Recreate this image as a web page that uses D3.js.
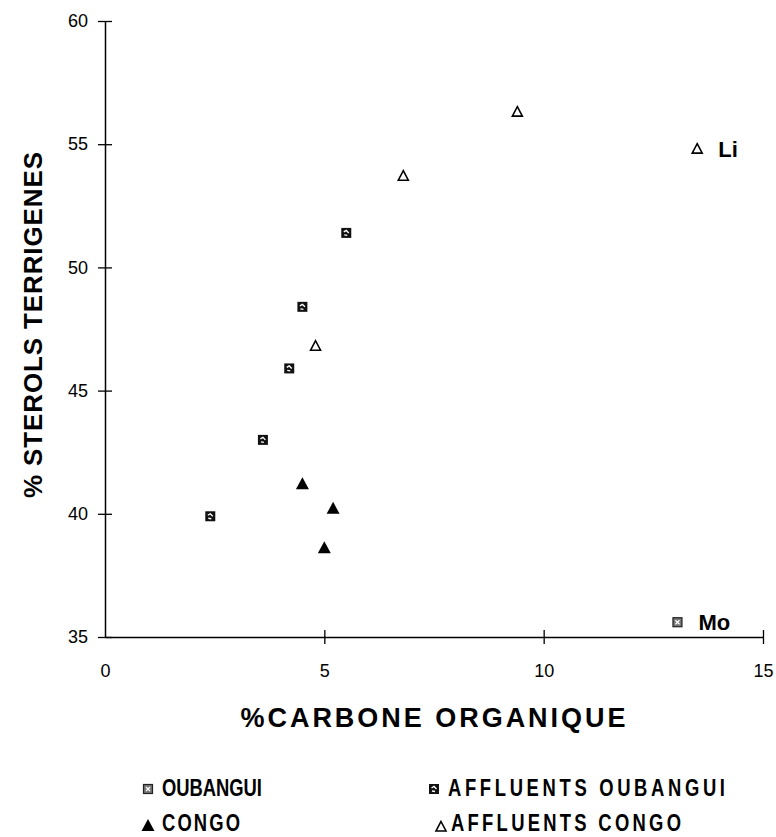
<!DOCTYPE html>
<html><head><meta charset="utf-8">
<script src="https://cdn.jsdelivr.net/npm/d3@7"></script>
<style>body{margin:0;background:#fff}svg{display:block}</style>
</head><body>
<svg id="c" width="776" height="837"></svg>
<script>
const xTicks = [0, 5, 10, 15];
const yTicks = [35, 40, 45, 50, 55, 60];
const oubangui = [{x: 13.05, y: 35.6, label: "Mo"}];
const affluentsOubangui = [
  {x: 2.4, y: 39.9}, {x: 3.6, y: 43.0}, {x: 4.2, y: 45.9},
  {x: 4.5, y: 48.4}, {x: 5.5, y: 51.4}
];
const congo = [{x: 4.5, y: 41.2}, {x: 5.2, y: 40.2}, {x: 5.0, y: 38.6}];
const affluentsCongo = [
  {x: 4.8, y: 46.8}, {x: 6.8, y: 53.7}, {x: 9.4, y: 56.3}, {x: 13.5, y: 54.8, label: "Li"}
];
const legendItems = [
  {name: "OUBANGUI", type: "sqLight"},
  {name: "AFFLUENTS OUBANGUI", type: "sqDark"},
  {name: "CONGO", type: "triFill"},
  {name: "AFFLUENTS CONGO", type: "triOpen"}
];

const svg = d3.select("#c");
const x = d3.scaleLinear().domain([0, 15]).range([105, 763]);
const y = d3.scaleLinear().domain([35, 60]).range([637, 21]);
const font = "Arial, 'Liberation Sans', sans-serif";

const xg = svg.append("g").attr("transform", `translate(0,${y(35)})`)
  .call(d3.axisBottom(x).tickValues(xTicks).tickSize(7).tickSizeOuter(0).tickPadding(20));
xg.select(".domain").attr("stroke", "#000").attr("stroke-width", 1.5);
xg.selectAll(".tick line").attr("y1", -7).attr("y2", 7).attr("stroke-width", 1.3);
xg.selectAll(".tick").filter(d => d === 0).select("line").remove();
xg.selectAll("text").attr("font-size", 18).attr("font-family", font).attr("fill", "#000");

const yg = svg.append("g").attr("transform", `translate(${x(0)},0)`)
  .call(d3.axisLeft(y).tickValues(yTicks).tickSize(7).tickSizeOuter(0).tickPadding(10));
yg.select(".domain").attr("stroke", "#000").attr("stroke-width", 1.5);
yg.selectAll(".tick line").attr("x1", -7).attr("x2", 7).attr("stroke-width", 1.3);
yg.selectAll("text").attr("font-size", 18).attr("font-family", font).attr("fill", "#000");

// markers
function drawMarker(g, type, cx, cy) {
  if (type === "sqLight") {
    g.append("rect").attr("x", cx - 4.5).attr("y", cy - 4.5).attr("width", 9).attr("height", 9)
      .attr("fill", "#777").attr("stroke", "#222").attr("stroke-width", 1.2);
    g.append("path").attr("d", `M${cx-2},${cy-2}L${cx+2},${cy+2}M${cx+2},${cy-2}L${cx-2},${cy+2}`)
      .attr("stroke", "#fff").attr("stroke-width", 1.2);
  } else if (type === "sqDark") {
    g.append("rect").attr("x", cx - 5).attr("y", cy - 5).attr("width", 10).attr("height", 10)
      .attr("fill", "#111");
    g.append("path").attr("d", `M${cx-2.5},${cy-1}L${cx},${cy-2.5}L${cx+2.5},${cy}M${cx-2},${cy+2}L${cx+1},${cy+2.5}`)
      .attr("stroke", "#fff").attr("stroke-width", 1.4).attr("fill", "none");
  } else if (type === "triFill") {
    g.append("path").attr("d", `M${cx},${cy-7}L${cx+6.5},${cy+5}L${cx-6.5},${cy+5}Z`).attr("fill", "#000");
  } else if (type === "triOpen") {
    g.append("path").attr("d", `M${cx},${cy-5.5}L${cx+5},${cy+4}L${cx-5},${cy+4}Z`)
      .attr("fill", "#fff").attr("stroke", "#000").attr("stroke-width", 1.6);
  }
}
const pts = svg.append("g");
oubangui.forEach(d => drawMarker(pts, "sqLight", x(d.x), y(d.y)));
affluentsOubangui.forEach(d => drawMarker(pts, "sqDark", x(d.x), y(d.y)));
congo.forEach(d => drawMarker(pts, "triFill", x(d.x), y(d.y)));
affluentsCongo.forEach(d => drawMarker(pts, "triOpen", x(d.x), y(d.y)));

// point labels
[...oubangui, ...affluentsCongo].filter(d => d.label).forEach(d => {
  svg.append("text").attr("x", x(d.x) + 21).attr("y", y(d.y) + 8)
    .attr("font-family", font).attr("font-weight", "bold").attr("font-size", 22).text(d.label);
});

// axis titles
svg.append("text").attr("transform", "translate(42,325) rotate(-90)").attr("text-anchor", "middle")
  .attr("font-family", font).attr("font-weight", "bold").attr("font-size", 26)
  .attr("textLength", 346).attr("lengthAdjust", "spacing").text("% STEROLS TERRIGENES");
svg.append("text").attr("x", 433).attr("y", 727).attr("text-anchor", "middle")
  .attr("font-family", font).attr("font-weight", "bold").attr("font-size", 27)
  .attr("textLength", 385).attr("lengthAdjust", "spacing").text("%CARBONE ORGANIQUE");

// legend
const sx = 0.8;
const legPos = [
  {mx: 148, my: 789, tx: 162, ty: 796, w: 100},
  {mx: 434, my: 789, tx: 448, ty: 796, w: 277},
  {mx: 148, my: 826, tx: 162, ty: 831, w: 78},
  {mx: 441, my: 827, tx: 451, ty: 831, w: 230}
];
legendItems.forEach((it, i) => {
  const p = legPos[i];
  drawMarker(svg, it.type, p.mx, p.my);
  svg.append("text").attr("transform", `translate(${p.tx},${p.ty}) scale(${sx},1)`)
    .attr("font-family", font)
    .attr("font-weight", "bold").attr("font-size", 23).attr("textLength", p.w / sx).attr("lengthAdjust", "spacing")
    .text(it.name);
});
</script>
</body></html>
